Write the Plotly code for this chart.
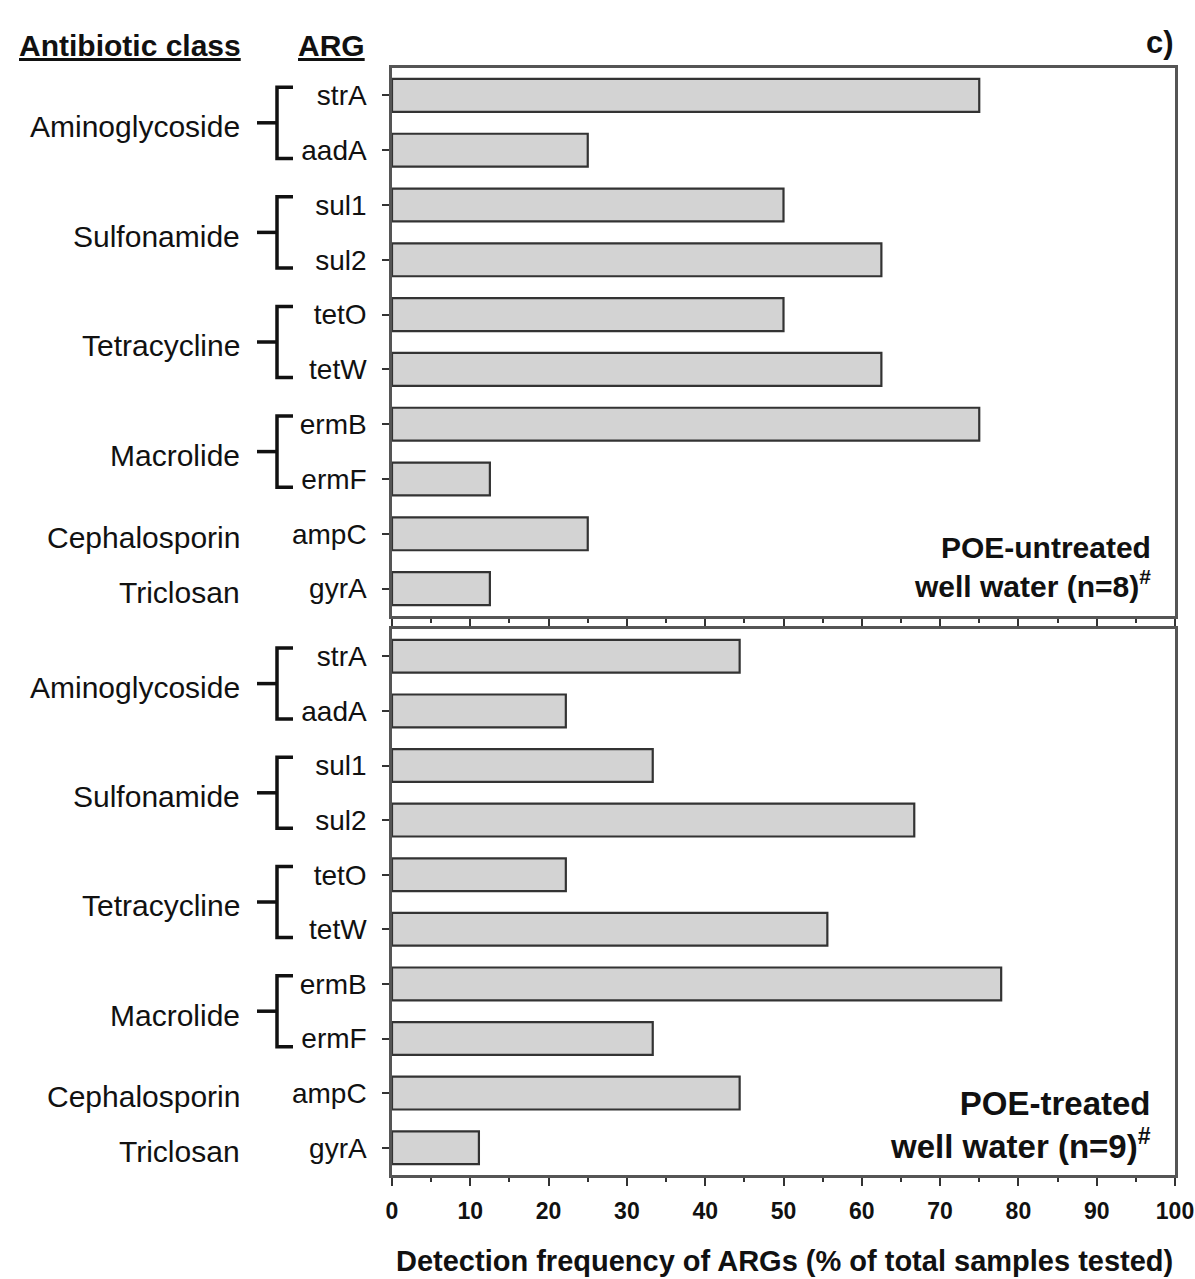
import plotly.graph_objects as go

# ---------------- data ----------------
classes = ["Aminoglycoside", "Sulfonamide", "Tetracycline", "Macrolide", "Cephalosporin", "Triclosan"]
class_sizes = [2, 2, 2, 2, 1, 1]
args = ["strA", "aadA", "sul1", "sul2", "tetO", "tetW", "ermB", "ermF", "ampC", "gyrA"]
untreated = [75, 25, 50, 62.5, 50, 62.5, 75, 12.5, 25, 12.5]      # POE-untreated, n=8
treated = [44.4, 22.2, 33.3, 66.7, 22.2, 55.6, 77.8, 33.3, 44.4, 11.1]  # POE-treated, n=9
x_ticks = [0, 10, 20, 30, 40, 50, 60, 70, 80, 90, 100]
panel_labels = ["POE-untreated<br>well water (n=8)<sup>#</sup>",
                "POE-treated<br>well water (n=9)<sup>#</sup>"]
x_title = "Detection frequency of ARGs (% of total samples tested)"

# ---------------- layout constants ----------------
W, H = 1195, 1279
FONT = "Liberation Sans, Arial, Helvetica, sans-serif"
px = lambda v: v / W
py = lambda v: 1 - v / H

X0, X1 = 392, 1175
panels = [(68, 616), (629, 1175)]
rows = list(range(len(args)))

fig = go.Figure()
for i, (vals, (t, b)) in enumerate(zip([untreated, treated], panels)):
    sfx = "" if i == 0 else "2"
    fig.add_trace(go.Bar(
        x=vals, y=rows, orientation="h", width=0.6,
        marker=dict(color="#d3d3d3", line=dict(color="#333333", width=2.2)),
        xaxis="x" + sfx, yaxis="y" + sfx, showlegend=False, hoverinfo="x+y"))

    fig.layout["xaxis" + sfx] = dict(
        domain=[px(X0), px(X1)], range=[0, 100], anchor="y" + sfx,
        tickvals=x_ticks, ticktext=[str(v) for v in x_ticks],
        showticklabels=(i == 1), ticks="outside", ticklen=8, tickwidth=2, tickcolor="#333",
        ticklabelstandoff=6, automargin=False,
        minor=dict(ticks="outside", ticklen=4, tickwidth=2, dtick=5, tick0=0, tickcolor="#333"),
        showline=True, linecolor="#555", linewidth=2.5, mirror=True,
        showgrid=False, zeroline=False,
        tickfont=dict(family=FONT, size=23, color="#111", weight="bold"),
    )
    fig.layout["yaxis" + sfx] = dict(
        domain=[py(b), py(t)], range=[9.5, -0.5], anchor="x" + sfx,
        tickvals=rows, ticktext=args, ticks="outside", ticklen=7, tickwidth=2, tickcolor="#333",
        ticklabelstandoff=10, automargin=False,
        showline=True, linecolor="#555", linewidth=2.5, mirror=True,
        showgrid=False, zeroline=False,
        tickfont=dict(family=FONT, size=28, color="#111"),
    )

    # class labels and brackets
    yref = "y" + sfx
    r = 0
    for cname, n in zip(classes, class_sizes):
        mid = r + (n - 1) / 2
        fig.add_annotation(x=px(242), y=mid + 0.07, xref="paper", yref=yref, text=cname,
                           xanchor="right", yanchor="middle", showarrow=False,
                           font=dict(family=FONT, size=30, color="#111"))
        if n > 1:
            top, bot = r - 0.15, r + n - 1 + 0.15
            fig.add_shape(type="path", xref="paper", yref=yref,
                          path=f"M {px(293)},{top} L {px(277)},{top} L {px(277)},{bot} L {px(293)},{bot}",
                          line=dict(color="#111", width=3.5))
            fig.add_shape(type="line", xref="paper", yref=yref,
                          x0=px(257), x1=px(277), y0=mid, y1=mid,
                          line=dict(color="#111", width=3.5))
        r += n

# panel labels
fig.add_annotation(x=px(1153), y=py(567), xref="paper", yref="paper", text="<b>" + panel_labels[0] + "</b>",
                   xanchor="right", yanchor="middle", align="right", showarrow=False,
                   font=dict(family=FONT, size=30, color="#111"))
fig.add_annotation(x=px(1153), y=py(1125), xref="paper", yref="paper", text="<b>" + panel_labels[1] + "</b>",
                   xanchor="right", yanchor="middle", align="right", showarrow=False,
                   font=dict(family=FONT, size=33, color="#111"))

# headers
fig.add_annotation(x=px(130), y=py(45), xref="paper", yref="paper", text="<b><u>Antibiotic class</u></b>",
                   xanchor="center", yanchor="middle", showarrow=False,
                   font=dict(family=FONT, size=30, color="#111"))
fig.add_annotation(x=px(331), y=py(45), xref="paper", yref="paper", text="<b><u>ARG</u></b>",
                   xanchor="center", yanchor="middle", showarrow=False,
                   font=dict(family=FONT, size=30, color="#111"))
fig.add_annotation(x=px(1160), y=py(42), xref="paper", yref="paper", text="<b>c)</b>",
                   xanchor="center", yanchor="middle", showarrow=False,
                   font=dict(family=FONT, size=31, color="#111"))
# x-axis title
fig.add_annotation(x=px(784), y=py(1261), xref="paper", yref="paper", text="<b>" + x_title + "</b>",
                   xanchor="center", yanchor="middle", showarrow=False,
                   font=dict(family=FONT, size=29, color="#111"))

fig.update_layout(width=W, height=H, autosize=False,
                  margin=dict(l=0, r=0, t=0, b=0),
                  paper_bgcolor="white", plot_bgcolor="white",
                  bargap=0.4)

fig.write_html("out.html")
